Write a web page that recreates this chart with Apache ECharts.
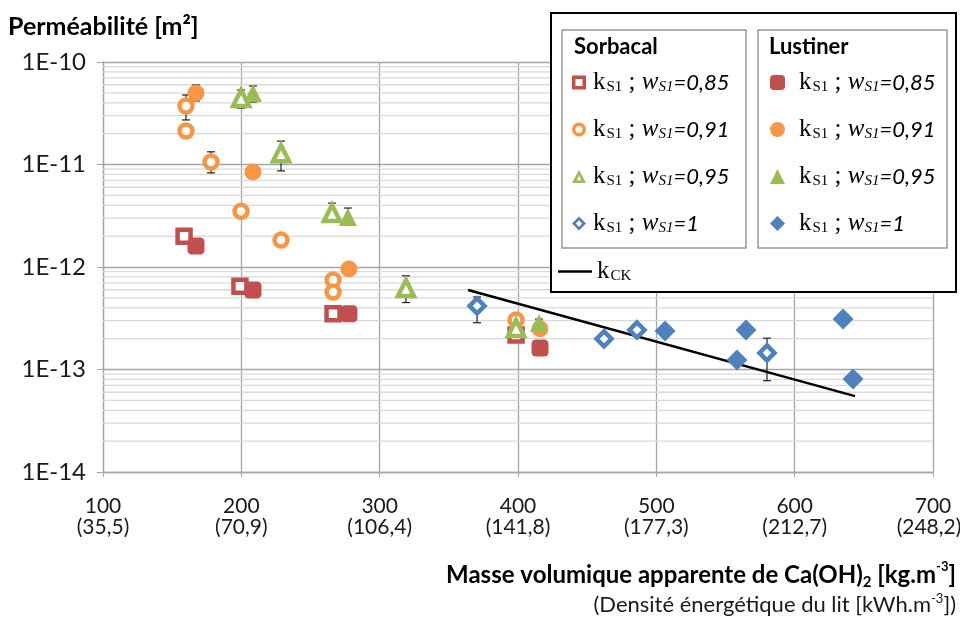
<!DOCTYPE html>
<html>
<head>
<meta charset="utf-8">
<script src="https://cdn.jsdelivr.net/npm/echarts@6/dist/echarts.min.js"></script>
<style>
html, body { margin: 0; padding: 0; background: #fff; }
#chart { width: 960px; height: 617px; }
</style>
</head>
<body>
<div id="chart"></div>
<script>
// valeurs : [masse volumique, permeabilite]
const sorb085 = [[158.6, 2.0e-12], [199.0, 6.5e-13], [266.3, 3.5e-13], [398.6, 2.17e-13]];
const sorb091 = [[160, 3.72e-11], [160, 2.12e-11], [178.1, 1.06e-11], [199.8, 3.5e-12], [228.7, 1.83e-12], [266.3, 7.46e-13], [266.3, 5.7e-13], [398.6, 3.04e-13]];
const sorb095 = [[199.8, 4.45e-11], [228.7, 1.29e-11], [265.5, 3.36e-12], [319, 6.24e-13], [398.6, 2.54e-13]];
const sorb1 = [[370.4, 4.17e-13], [462.2, 1.99e-13], [486, 2.43e-13], [580, 1.45e-13]];
const lust085 = [[167.2, 1.6e-12], [208.4, 5.97e-13], [277.8, 3.5e-13], [415.9, 1.62e-13]];
const lust091 = [[167.2, 4.99e-11], [208.4, 8.45e-12], [277.8, 9.55e-13], [415.9, 2.5e-13]];
const lust095 = [[208.4, 4.99e-11], [277, 3.07e-12], [415.2, 2.84e-13]];
const lust1 = [[506.3, 2.38e-13], [558.3, 1.24e-13], [564.8, 2.43e-13], [635, 3.11e-13], [642.2, 8.07e-14]];
const kCK = [[363.9, 5.97e-13], [643.6, 5.5e-14]];
// barres d'erreur : [x, bas, haut]
const errBars = [
	[160, 2.72e-11, 4.77e-11],
	[167.2, 4.17e-11, 5.97e-11],
	[178.1, 8.28e-12, 1.33e-11],
	[199.8, 3.55e-11, 5.33e-11],
	[208.4, 4.07e-11, 5.83e-11],
	[228.7, 8.66e-12, 1.69e-11],
	[265.5, 2.9e-12, 4.2e-12],
	[277, 2.7e-12, 3.76e-12],
	[319, 4.5e-13, 8.2e-13],
	[370.4, 2.86e-13, 5.1e-13],
	[415.2, 2.6e-13, 3.1e-13],
	[580, 7.77e-14, 2.02e-13]
];
const xTicks = [100, 200, 300, 400, 500, 600, 700];
const densityLabels = ['(35,5)', '(70,9)', '(106,4)', '(141,8)', '(177,3)', '(212,7)', '(248,2)'];
const yTickLabels = { '-14': '1E-14', '-13': '1E-13', '-12': '1E-12', '-11': '1E-11', '-10': '1E-10' };
const wLabels = ['0,85', '0,91', '0,95', '1'];
const sorbNames = ['S 0,85', 'S 0,91', 'S 0,95', 'S 1'];
const lustNames = ['L 0,85', 'L 0,91', 'L 0,95', 'L 1'];

const RED = '#C0504D', ORANGE = '#F79646', GREEN = '#9BBB59', BLUE = '#4F81BD';
const font = 'Lato, sans-serif';
const serif = '"Liberation Serif", serif';

// icones creuses de la legende (anneaux)
const ringIcons = [
	'path://M0,0H14V14H0Z M3.5,3.5V10.5H10.5V3.5Z',
	'path://M7,0A7,7 0 1,1 7,14A7,7 0 1,1 7,0Z M7,3.5A3.5,3.5 0 1,0 7,10.5A3.5,3.5 0 1,0 7,3.5Z',
	'path://M7,0L14,13L0,13Z M7,5.5L4.8,10.2L9.2,10.2Z',
	'path://M7,0L14,7L7,14L0,7Z M7,3.8L3.8,7L7,10.2L10.2,7Z'
];
const sorbColors = [RED, ORANGE, GREEN, BLUE];

// lignes secondaires du quadrillage log (2..9 par decade)
const minorLines = [];
for (let e = -14; e < -10; e++) {
	for (let m = 2; m <= 9; m++) {
		minorLines.push([100, m * Math.pow(10, e)]);
	}
}

function hollow(name, data, symbol, size, color) {
	return {
		name: name, type: 'scatter', data: data, symbol: symbol, symbolSize: size, z: 3,
		itemStyle: { color: '#fff', borderColor: color, borderWidth: 4.5, opacity: 1 }
	};
}
function filled(name, data, symbol, size, color) {
	return {
		name: name, type: 'scatter', data: data, symbol: symbol, symbolSize: size, z: 3,
		itemStyle: { color: color, opacity: 1 }
	};
}

const legendRich = {
	k: { fontFamily: serif, fontSize: 25, color: '#000', lineHeight: 24 },
	s: { fontFamily: serif, fontSize: 15, color: '#000', verticalAlign: 'bottom', lineHeight: 24, padding: [8, 0, 0, 1] },
	w: { fontFamily: serif, fontStyle: 'italic', fontSize: 25, color: '#000', lineHeight: 24 },
	ws: { fontFamily: serif, fontStyle: 'italic', fontSize: 15, color: '#000', verticalAlign: 'bottom', lineHeight: 24, padding: [8, 0, 0, 0] },
	n: { fontFamily: font, fontStyle: 'italic', fontSize: 22, color: '#000', lineHeight: 24 }
};
function legendText(name) {
	if (name === 'kCK') return '{k|k}{s|CK}';
	const i = Math.max(sorbNames.indexOf(name), lustNames.indexOf(name));
	return '{k|k}{s|S1}{k| ; }{w|w}{ws|S1}{n|=' + wLabels[i] + '}';
}

const chart = echarts.init(document.getElementById('chart'));
const option = {
	animation: false,
	grid: { left: 103, top: 62, width: 830, height: 410, containLabel: false, outerBoundsMode: 'none' },
	xAxis: {
		type: 'value', min: 100, max: 700, interval: 100,
		axisLine: { show: true, lineStyle: { color: '#A6A6A6', width: 1.3 } },
		axisTick: { show: true, length: 5, lineStyle: { color: '#A6A6A6' } },
		splitLine: { show: true, lineStyle: { color: '#A6A6A6', width: 1.3 } },
		axisLabel: {
			margin: 24,
			formatter: function (v) {
				const i = xTicks.indexOf(v);
				const last = i === xTicks.length - 1 ? 'c' : 'b';
				return '{a|' + v + '}\n{' + last + '|' + densityLabels[i] + '}';
			},
			rich: {
				a: { fontFamily: font, fontSize: 21, color: '#1a1a1a', lineHeight: 21 },
				b: { fontFamily: font, fontSize: 21, color: '#1a1a1a', lineHeight: 21 },
				c: { fontFamily: font, fontSize: 21, color: '#1a1a1a', lineHeight: 21, padding: [0, 8, 0, 0] }
			}
		}
	},
	yAxis: {
		type: 'log', logBase: 10, min: 1e-14, max: 1e-10,
		axisLine: { show: true, lineStyle: { color: '#A6A6A6', width: 1.3 } },
		axisTick: { show: true, length: 6, lineStyle: { color: '#A6A6A6' } },
		splitLine: { show: true, lineStyle: { color: '#A6A6A6', width: 1.3 } },
		axisLabel: {
			margin: 17, fontFamily: font, fontSize: 24, color: '#1a1a1a',
			formatter: function (v) { return yTickLabels[String(Math.round(Math.log10(v)))]; }
		}
	},
	legend: [
		{
			orient: 'vertical', left: 572, top: 70, itemGap: 22, z: 20, padding: 0,
			itemWidth: 14, itemHeight: 14, selectedMode: false,
			data: sorbNames.map((n, i) => ({ name: n, icon: ringIcons[i], itemStyle: { color: sorbColors[i], borderWidth: 0 } })),
			formatter: legendText,
			textStyle: { rich: legendRich, padding: [0, 0, 0, 2] }
		},
		{
			orient: 'vertical', left: 770, top: 70, itemGap: 22, z: 20, padding: 0,
			itemWidth: 15, itemHeight: 15, selectedMode: false,
			itemStyle: { borderWidth: 0 },
			data: lustNames,
			formatter: legendText,
			textStyle: { rich: legendRich, padding: [0, 0, 0, 9] }
		},
		{
			left: 558, top: 259, itemWidth: 34, itemHeight: 2.5, selectedMode: false, z: 20, padding: 0,
			data: [{ name: 'kCK', icon: 'rect' }], formatter: legendText, textStyle: { rich: legendRich }
		}
	],
	graphic: [
		{ type: 'rect', z: 10, shape: { x: 551, y: 13, width: 405, height: 279 }, style: { fill: '#fff', stroke: '#000', lineWidth: 2 } },
		{ type: 'rect', z: 11, shape: { x: 562, y: 30, width: 184, height: 218 }, style: { fill: '#fff', stroke: '#999', lineWidth: 1.5 } },
		{ type: 'rect', z: 11, shape: { x: 758, y: 30, width: 189, height: 218 }, style: { fill: '#fff', stroke: '#999', lineWidth: 1.5 } },
		{ type: 'text', z: 12, x: 574, y: 47, style: { text: 'Sorbacal', font: 'bold 22px ' + font, fill: '#000', verticalAlign: 'middle' } },
		{ type: 'text', z: 12, x: 769, y: 47, style: { text: 'Lustiner', font: 'bold 22px ' + font, fill: '#000', verticalAlign: 'middle' } },
		{ type: 'text', x: 8, y: 27, style: { text: 'Perméabilité [m²]', font: 'bold 25px ' + font, fill: '#000', verticalAlign: 'middle' } },
		{
			type: 'text', x: 956, y: 575,
			style: {
				text: '{b|Masse volumique apparente de Ca(OH)}{bs|2}{b| [kg.m}{bp|-3}{b|]}',
				align: 'right', verticalAlign: 'middle',
				rich: {
					b: { fontFamily: font, fontWeight: 'bold', fontSize: 24, fill: '#000', lineHeight: 30 },
					bs: { fontFamily: font, fontWeight: 'bold', fontSize: 15, fill: '#000', verticalAlign: 'bottom', lineHeight: 30 },
					bp: { fontFamily: font, fontWeight: 'bold', fontSize: 13, fill: '#000', verticalAlign: 'top', lineHeight: 30 }
				}
			}
		},
		{
			type: 'text', x: 956, y: 605,
			style: {
				text: '{r|(Densité énergétique du lit [kWh.m}{p|-3}{r|])}',
				align: 'right', verticalAlign: 'middle',
				rich: {
					r: { fontFamily: font, fontSize: 22, fill: '#1a1a1a', lineHeight: 26 },
					p: { fontFamily: font, fontSize: 13, fill: '#1a1a1a', verticalAlign: 'top', lineHeight: 26 }
				}
			}
		}
	],
	series: [
		{
			// quadrillage secondaire
			type: 'custom', z: 1, silent: true, data: minorLines,
			encode: { x: 0, y: 1 },
			renderItem: function (params, api) {
				const a = api.coord([100, api.value(1)]);
				const b = api.coord([700, api.value(1)]);
				return { type: 'line', shape: { x1: a[0], y1: a[1], x2: b[0], y2: b[1] }, style: { stroke: '#D9D9D9', lineWidth: 1.3 } };
			}
		},
		{
			name: 'kCK', type: 'line', data: kCK, symbol: 'none', z: 2,
			lineStyle: { color: '#000', width: 2.5 }, itemStyle: { color: '#000' }
		},
		{
			type: 'custom', z: 2, data: errBars,
			encode: { x: 0, y: [1, 2] },
			renderItem: function (params, api) {
				const x = api.value(0);
				const lo = api.coord([x, api.value(1)]);
				const hi = api.coord([x, api.value(2)]);
				const st = { stroke: '#222', lineWidth: 1.2 };
				return {
					type: 'group', children: [
						{ type: 'line', shape: { x1: lo[0], y1: lo[1], x2: hi[0], y2: hi[1] }, style: st },
						{ type: 'line', shape: { x1: lo[0] - 4, y1: lo[1], x2: lo[0] + 4, y2: lo[1] }, style: st },
						{ type: 'line', shape: { x1: hi[0] - 4, y1: hi[1], x2: hi[0] + 4, y2: hi[1] }, style: st }
					]
				};
			}
		},
		hollow('S 0,85', sorb085, 'rect', 13, RED),
		hollow('S 0,91', sorb091, 'circle', 13, ORANGE),
		hollow('S 0,95', sorb095, 'triangle', 16, GREEN),
		hollow('S 1', sorb1, 'diamond', 15, BLUE),
		filled('L 0,85', lust085, 'roundRect', 17, RED),
		filled('L 0,91', lust091, 'circle', 17, ORANGE),
		filled('L 0,95', lust095, 'triangle', 18, GREEN),
		filled('L 1', lust1, 'diamond', 21, BLUE)
	]
};
chart.setOption(option);
</script>
</body>
</html>
